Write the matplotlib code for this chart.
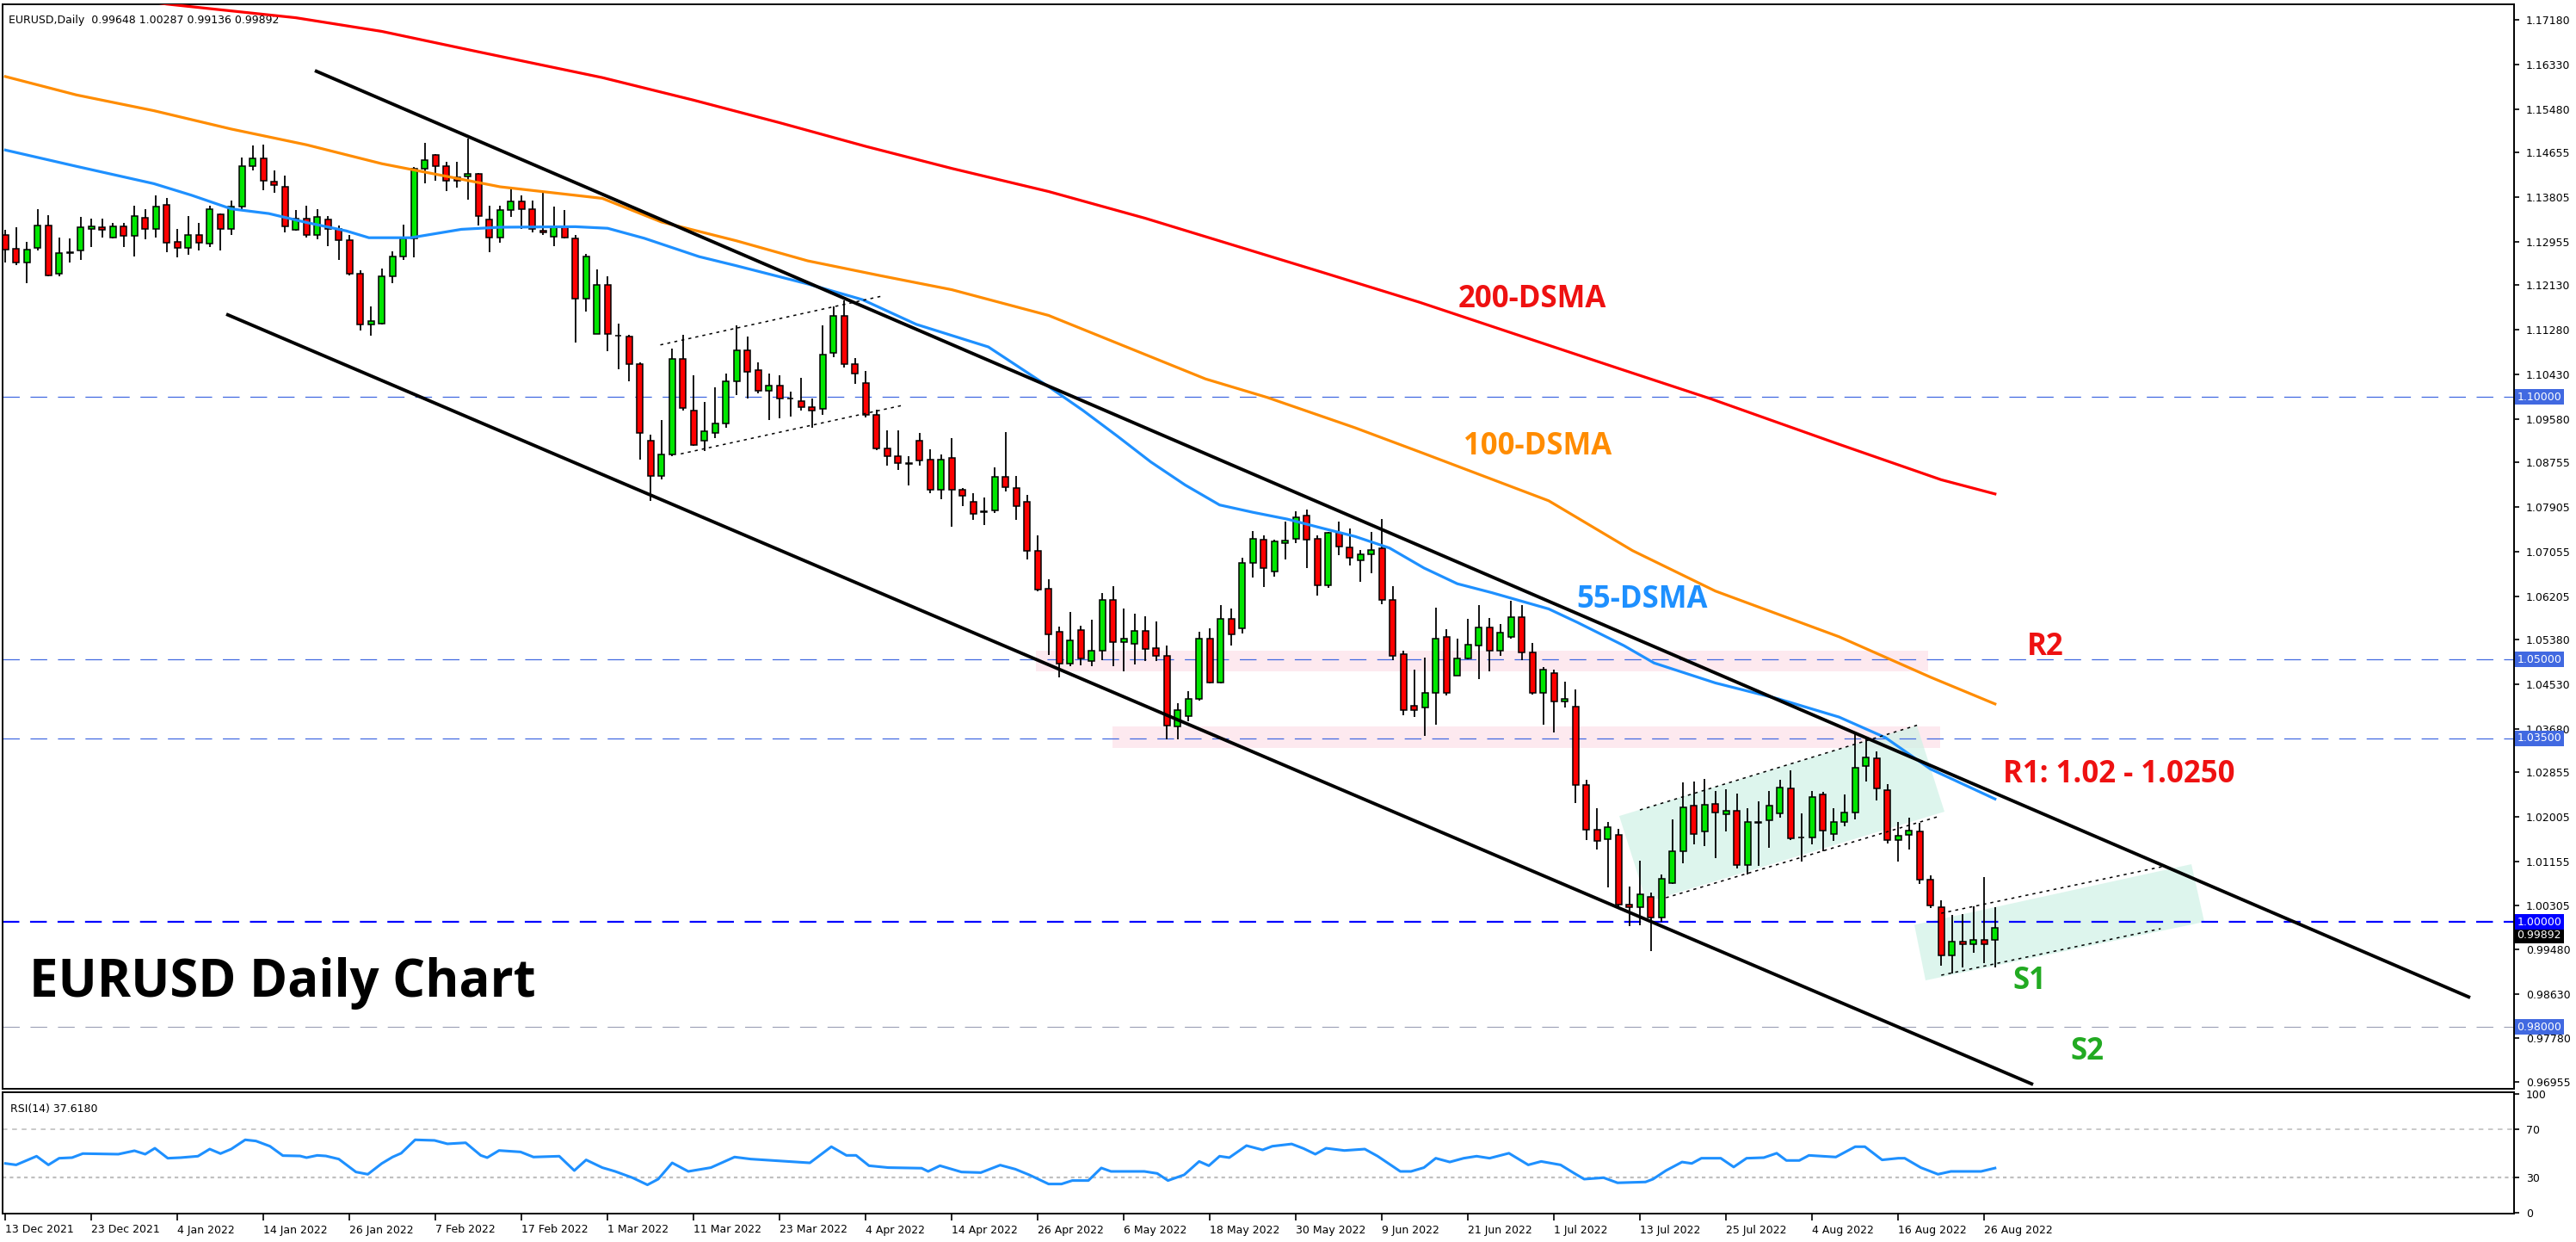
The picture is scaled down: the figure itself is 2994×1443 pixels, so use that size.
import numpy as np
import matplotlib
matplotlib.use("Agg")
import matplotlib.pyplot as plt
from matplotlib.patches import Polygon, Rectangle
from matplotlib.transforms import blended_transform_factory

# ---- daily candles, 13 Dec 2021 .. 29 Aug 2022 ----
opens = [1.1308, 1.1282, 1.1256, 1.1284, 1.1327, 1.1234, 1.1274, 1.1278, 1.1319, 1.1323,
         1.1304, 1.1325, 1.1307, 1.1341, 1.1319, 1.1365, 1.1295, 1.1284, 1.1309, 1.1292,
         1.1348, 1.1319, 1.1362, 1.1440, 1.1454, 1.1410, 1.1400, 1.1318, 1.1339, 1.1309,
         1.1337, 1.1320, 1.1298, 1.1235, 1.1137, 1.1140, 1.1229, 1.1268, 1.1301, 1.1435,
         1.1460, 1.1440, 1.1418, 1.1420, 1.1424, 1.1337, 1.1304, 1.1356, 1.1372, 1.1358,
         1.1316, 1.1305, 1.1325, 1.1301, 1.1187, 1.1120, 1.1213, 1.1116, 1.1115, 1.1063,
         1.0917, 1.0850, 1.0891, 1.1072, 1.0974, 1.0916, 1.0932, 1.0950, 1.1030, 1.1089,
         1.1051, 1.1011, 1.1021, 1.0996, 1.0992, 1.0980, 1.0977, 1.1084, 1.1154, 1.1063,
         1.1027, 1.0966, 1.0902, 1.0887, 1.0872, 1.0917, 1.0880, 1.0823, 1.0883, 1.0823,
         1.0800, 1.0781, 1.0783, 1.0848, 1.0826, 1.0800, 1.0707, 1.0634, 1.0552, 1.0492,
         1.0556, 1.0496, 1.0516, 1.0613, 1.0533, 1.0530, 1.0554, 1.0521, 1.0507, 1.0372,
         1.0392, 1.0425, 1.0540, 1.0455, 1.0577, 1.0559, 1.0684, 1.0728, 1.0668, 1.0722,
         1.0730, 1.0774, 1.0730, 1.0641, 1.0741, 1.0713, 1.0689, 1.0700, 1.0712, 1.0613,
         1.0510, 1.0411, 1.0408, 1.0436, 1.0543, 1.0469, 1.0502, 1.0526, 1.0561, 1.0516,
         1.0543, 1.0580, 1.0513, 1.0436, 1.0474, 1.0419, 1.0410, 1.0261, 1.0175, 1.0157,
         1.0166, 1.0033, 1.0028, 1.0047, 1.0008, 1.0073, 1.0135, 1.0221, 1.0172, 1.0224,
         1.0205, 1.0212, 1.0109, 1.0189, 1.0193, 1.0206, 1.0254, 1.0160, 1.0160, 1.0242,
         1.0168, 1.0190, 1.0208, 1.0296, 1.0312, 1.0251, 1.0155, 1.0165, 1.0172, 1.0080,
         1.0028, 0.9936, 0.9962, 0.9957, 0.9966, 0.99648]
highs = [1.1318, 1.1323, 1.1295, 1.1358, 1.1346, 1.1303, 1.1301, 1.1342, 1.1340, 1.1340,
         1.1332, 1.1331, 1.1364, 1.1358, 1.1383, 1.1378, 1.1320, 1.1344, 1.1331, 1.1364,
         1.1350, 1.1374, 1.1456, 1.1478, 1.1481, 1.1432, 1.1422, 1.1356, 1.1364, 1.1358,
         1.1345, 1.1327, 1.1309, 1.1241, 1.1172, 1.1245, 1.1277, 1.1328, 1.1437, 1.1483,
         1.1462, 1.1448, 1.1447, 1.1492, 1.1427, 1.1364, 1.1364, 1.1395, 1.1383, 1.1374,
         1.1390, 1.1363, 1.1356, 1.1309, 1.1272, 1.1242, 1.1230, 1.1140, 1.1118, 1.1066,
         1.0928, 1.0955, 1.1092, 1.1118, 1.1041, 1.0991, 1.1018, 1.1044, 1.1136, 1.1115,
         1.1066, 1.1044, 1.1041, 1.1010, 1.1036, 1.0996, 1.1136, 1.1172, 1.1184, 1.1073,
         1.1050, 1.0975, 1.0936, 1.0936, 1.0887, 1.0931, 1.0900, 1.0890, 1.0921, 1.0827,
         1.0817, 1.0809, 1.0865, 1.0933, 1.0849, 1.0813, 1.0736, 1.0652, 1.0562, 1.0590,
         1.0564, 1.0575, 1.0626, 1.0639, 1.0596, 1.0587, 1.0582, 1.0572, 1.0526, 1.0416,
         1.0439, 1.0552, 1.0559, 1.0603, 1.0596, 1.0693, 1.0745, 1.0736, 1.0728, 1.0763,
         1.0782, 1.0786, 1.0736, 1.0742, 1.0762, 1.0749, 1.0708, 1.0743, 1.0768, 1.0639,
         1.0516, 1.0480, 1.0503, 1.0598, 1.0557, 1.0540, 1.0577, 1.0603, 1.0578, 1.0567,
         1.0612, 1.0604, 1.0531, 1.0485, 1.0481, 1.0458, 1.0443, 1.0271, 1.0216, 1.0190,
         1.0177, 1.0067, 1.0116, 1.0055, 1.0091, 1.0195, 1.0266, 1.0268, 1.0272, 1.0249,
         1.0253, 1.0244, 1.0216, 1.0230, 1.0249, 1.0270, 1.0289, 1.0207, 1.0250, 1.0248,
         1.0216, 1.0242, 1.0361, 1.0353, 1.0324, 1.0262, 1.0190, 1.0198, 1.0189, 1.0089,
         1.0041, 1.0013, 1.0014, 1.0029, 1.0085, 1.00287]
lows = [1.1256, 1.1251, 1.1217, 1.1278, 1.1230, 1.1230, 1.1256, 1.1260, 1.1285, 1.1303,
        1.1301, 1.1285, 1.1268, 1.1300, 1.1303, 1.1276, 1.1266, 1.1271, 1.1279, 1.1285,
        1.1279, 1.1309, 1.1358, 1.1432, 1.1394, 1.1389, 1.1313, 1.1316, 1.1303, 1.1300,
        1.1287, 1.1260, 1.1232, 1.1126, 1.1116, 1.1137, 1.1216, 1.1261, 1.1265, 1.1407,
        1.1412, 1.1392, 1.1398, 1.1375, 1.1327, 1.1276, 1.1293, 1.1342, 1.1320, 1.1313,
        1.1309, 1.1287, 1.1301, 1.1104, 1.1162, 1.1120, 1.1087, 1.1052, 1.1029, 1.0881,
        1.0801, 1.0842, 1.0887, 1.0974, 1.0906, 1.0897, 1.0921, 1.0941, 1.1004, 1.0996,
        1.1006, 1.0956, 1.0959, 1.0963, 1.0974, 1.0941, 1.0965, 1.1075, 1.1056, 1.1025,
        1.0960, 1.0898, 1.0869, 1.0860, 1.0832, 1.0869, 1.0817, 1.0805, 1.0752, 1.0792,
        1.0765, 1.0756, 1.0778, 1.0819, 1.0765, 1.0691, 1.0630, 1.0509, 1.0465, 1.0487,
        1.0489, 1.0487, 1.0499, 1.0487, 1.0477, 1.0490, 1.0496, 1.0496, 1.0347, 1.0348,
        1.0382, 1.0422, 1.0454, 1.0454, 1.0526, 1.0550, 1.0655, 1.0637, 1.0657, 1.0691,
        1.0722, 1.0673, 1.0622, 1.0636, 1.0699, 1.0678, 1.0647, 1.0664, 1.0605, 1.0499,
        1.0394, 1.0391, 1.0354, 1.0376, 1.0432, 1.0469, 1.0500, 1.0463, 1.0477, 1.0507,
        1.0540, 1.0499, 1.0433, 1.0376, 1.0360, 1.0409, 1.0227, 1.0155, 1.0137, 1.0066,
        1.0029, 0.9992, 0.9993, 0.9945, 1.0000, 1.0072, 1.0112, 1.0148, 1.0145, 1.0122,
        1.0172, 1.0102, 1.0090, 1.0107, 1.0141, 1.0199, 1.0155, 1.0115, 1.0148, 1.0134,
        1.0154, 1.0182, 1.0195, 1.0268, 1.0232, 1.0149, 1.0114, 1.0138, 1.0072, 1.0026,
        0.9917, 0.9901, 0.9913, 0.9941, 0.9921, 0.99136]
closes = [1.1280, 1.1256, 1.1280, 1.1327, 1.1232, 1.1274, 1.1275, 1.1323, 1.1325, 1.1318,
          1.1325, 1.1307, 1.1344, 1.1320, 1.1363, 1.1293, 1.1284, 1.1309, 1.1293, 1.1358,
          1.1319, 1.1362, 1.1440, 1.1454, 1.1411, 1.1403, 1.1324, 1.1339, 1.1309, 1.1342,
          1.1320, 1.1298, 1.1234, 1.1137, 1.1145, 1.1229, 1.1268, 1.1301, 1.1435, 1.1451,
          1.1440, 1.1411, 1.1411, 1.1424, 1.1345, 1.1304, 1.1356, 1.1372, 1.1358, 1.1320,
          1.1313, 1.1325, 1.1303, 1.1187, 1.1268, 1.1213, 1.1119, 1.1116, 1.1063, 1.0932,
          1.0850, 1.0891, 1.1072, 1.0979, 1.0909, 1.0935, 1.0950, 1.1030, 1.1089, 1.1048,
          1.1011, 1.1021, 1.0997, 1.0997, 1.0981, 1.0973, 1.1081, 1.1154, 1.1063, 1.1045,
          1.0966, 1.0902, 1.0887, 1.0873, 1.0872, 1.0879, 1.0823, 1.0881, 1.0823, 1.0811,
          1.0777, 1.0781, 1.0848, 1.0828, 1.0792, 1.0707, 1.0633, 1.0548, 1.0492, 1.0536,
          1.0502, 1.0516, 1.0613, 1.0533, 1.0540, 1.0554, 1.0520, 1.0506, 1.0373, 1.0403,
          1.0425, 1.0540, 1.0455, 1.0577, 1.0548, 1.0684, 1.0730, 1.0674, 1.0725, 1.0727,
          1.0771, 1.0728, 1.0641, 1.0741, 1.0715, 1.0693, 1.0700, 1.0708, 1.0613, 1.0507,
          1.0403, 1.0403, 1.0436, 1.0540, 1.0436, 1.0502, 1.0528, 1.0561, 1.0516, 1.0551,
          1.0580, 1.0513, 1.0436, 1.0480, 1.0419, 1.0425, 1.0260, 1.0175, 1.0154, 1.0180,
          1.0033, 1.0028, 1.0052, 1.0008, 1.0082, 1.0135, 1.0218, 1.0168, 1.0223, 1.0209,
          1.0212, 1.0109, 1.0190, 1.0189, 1.0221, 1.0256, 1.0159, 1.0160, 1.0238, 1.0174,
          1.0190, 1.0208, 1.0293, 1.0313, 1.0254, 1.0155, 1.0164, 1.0174, 1.0081, 1.0032,
          0.9936, 0.9962, 0.9958, 0.9966, 0.9957, 0.99892]

date_labels = ["13 Dec 2021", "23 Dec 2021", "4 Jan 2022", "14 Jan 2022", "26 Jan 2022",
               "7 Feb 2022", "17 Feb 2022", "1 Mar 2022", "11 Mar 2022", "23 Mar 2022",
               "4 Apr 2022", "14 Apr 2022", "26 Apr 2022", "6 May 2022", "18 May 2022",
               "30 May 2022", "9 Jun 2022", "21 Jun 2022", "1 Jul 2022", "13 Jul 2022",
               "25 Jul 2022", "4 Aug 2022", "16 Aug 2022", "26 Aug 2022"]
date_step = 8

# moving averages, sampled along the drawn lines (bar index, price)
ma200_idx = [0, 8, 15, 27, 35, 44, 55.5, 64, 72, 80, 88, 97, 106, 114, 122, 131.5, 140,
             150, 158.6, 170.3, 180, 185]
ma200_val = [1.1788, 1.1768, 1.1748, 1.1722, 1.1696, 1.1657, 1.1608, 1.1565, 1.1522, 1.1477,
             1.1435, 1.1391, 1.1340, 1.1290, 1.1240, 1.1180, 1.1122, 1.1054, 1.0996, 1.0911,
             1.0842, 1.0815]
ma100_idx = [0, 6.6, 13.8, 21, 28, 35, 46, 55.5, 61, 68, 74.6, 81.3, 88, 97, 111.6, 117.3,
             125.5, 131.9, 143.5, 151.3, 159, 170.5, 179, 185]
ma100_val = [1.1610, 1.1575, 1.1545, 1.1510, 1.1480, 1.1444, 1.1400, 1.1378, 1.1333, 1.1297,
             1.1259, 1.1231, 1.1204, 1.1155, 1.1034, 1.0999, 1.0941, 1.0892, 1.0802, 1.0707,
             1.0630, 1.0543, 1.0466, 1.0415]
ma55_idx = [0, 6.6, 13.8, 17.3, 21, 24.5, 28, 31.7, 33.8, 37.7, 42.4, 46, 53, 56, 59.4,
            64.5, 67.9, 74.6, 79.7, 84.7, 91.4, 97.1, 100.2, 103.4, 106.5, 109.7, 112.9, 116,
            119.2, 122.4, 125.5, 128.7, 131.9, 135, 138.2, 143.5, 146.2, 150.5, 153.3, 159,
            164.8, 170.5, 174.8, 179, 185]
ma55_val = [1.1470, 1.1439, 1.1406, 1.1384, 1.1358, 1.1349, 1.1332, 1.1316, 1.1303, 1.1303,
            1.1319, 1.1323, 1.1324, 1.1321, 1.1302, 1.1267, 1.1250, 1.1215, 1.1185, 1.1138,
            1.1095, 1.1018, 1.0974, 1.0925, 1.0876, 1.0832, 1.0794, 1.0780, 1.0767, 1.0750,
            1.0734, 1.0712, 1.0674, 1.0644, 1.0627, 1.0596, 1.0570, 1.0526, 1.0493, 1.0455,
            1.0425, 1.0390, 1.0351, 1.0291, 1.0234]

# RSI(14), sampled along the line
rsi_idx = [0, 1, 2.9, 4, 5, 6.2, 7.2, 10.5, 12, 13, 13.9, 15.1, 16.3, 17.9, 19, 20, 21, 22.3,
           23.3, 24.6, 25.8, 27.4, 28, 29, 29.8, 31, 32.6, 33.7, 35, 36, 36.8, 38.1, 39.9,
           41.1, 42.8, 44.2, 44.8, 45.9, 47.9, 49.1, 51.5, 52.9, 54, 55.5, 56.7, 58.3, 59.7,
           60.7, 62, 63.5, 65.6, 67.8, 69.3, 71.4, 74.8, 76.8, 78.2, 79.1, 80.3, 82.1, 85.2,
           85.8, 86.9, 88.9, 90.7, 92.5, 93.9, 95.2, 97, 98.2, 99.2, 100.7, 101.9, 102.8,
           105.9, 107.1, 108.1, 109.6, 111, 111.9, 112.9, 113.8, 115.4, 116.9, 117.8, 119.6,
           120.7, 121.8, 122.8, 124.5, 126.4, 127.6, 129.7, 130.7, 131.9, 133, 134.3, 135.6,
           136.8, 138, 139.8, 141.6, 142.8, 144.6, 145.9, 146.8, 148.6, 149.9, 152.5, 153.2,
           154.4, 155.9, 156.8, 157.7, 159.5, 160.7, 161.9, 163.5, 164.7, 165.6, 166.8,
           167.7, 170.2, 172, 172.9, 174.5, 176, 176.6, 178.1, 179.7, 180.9, 183.7, 185]
rsi_val = [41.5, 40.3, 47.6, 40.3, 45.9, 46.4, 49.8, 49.3, 52.2, 49.3, 54.3, 45.9, 46.4, 47.6,
           53.6, 49.8, 53.6, 61.4, 60.4, 56.0, 48.1, 47.8, 46.4, 48.3, 47.8, 45.2, 34.3, 32.4,
           41.5, 46.9, 50.1, 61.4, 60.9, 58.0, 58.9, 48.3, 46.4, 52.4, 51.2, 46.9, 47.6, 35.5,
           44.5, 38.0, 34.8, 29.5, 23.5, 28.3, 42.0, 34.8, 38.0, 46.9, 45.2, 44.0, 42.0, 55.6,
           48.3, 48.3, 39.6, 38.0, 37.5, 34.8, 39.6, 34.3, 33.8, 40.1, 36.7, 31.9, 24.2, 24.2,
           27.1, 27.1, 37.7, 34.8, 34.8, 33.1, 27.1, 31.9, 43.2, 39.6, 47.6, 46.4, 56.5, 52.9,
           56.0, 57.9, 54.1, 49.3, 54.3, 52.4, 53.6, 47.6, 34.8, 34.8, 38.0, 45.9, 42.7, 45.9,
           47.6, 45.9, 50.1, 40.3, 43.2, 40.3, 33.1, 28.3, 29.5, 25.2, 25.9, 28.3, 35.5, 42.7,
           41.5, 45.9, 45.9, 38.5, 45.9, 46.4, 50.1, 44.0, 44.0, 48.3, 46.9, 55.6, 55.6, 44.5,
           45.9, 45.9, 38.0, 32.4, 34.8, 34.8, 37.6]

# price axis
price_ticks = [1.17180, 1.16330, 1.15480, 1.14655, 1.13805, 1.12955, 1.12130, 1.11280,
               1.10430, 1.09580, 1.08755, 1.07905, 1.07055, 1.06205, 1.05380, 1.04530,
               1.03680, 1.02855, 1.02005, 1.01155, 1.00305, 0.99480, 0.98630, 0.97780, 0.96955]
levels = [1.10000, 1.05000, 1.03500, 1.00000, 0.98000]

# drawn objects (bar index, price)
upper_trend = ([28.78, 229.18], [1.16213, 0.98557])
lower_trend = ([20.54, 188.54], [1.11574, 0.96902])
flag1_top = ([60.9, 81.5], [1.10989, 1.11918])
flag1_bot = ([62.8, 83.5], [1.08913, 1.09841])
flag2_box = [(150.06, 1.02016), (177.74, 1.03738), (180.3, 1.02098), (152.6, 1.00377)]
flag2_top = ([151.98, 177.82], [1.02131, 1.03749])
flag2_bot = ([154.4, 179.9], [1.00459, 1.02016])
flag3_box = [(177.5, 0.99943), (203.26, 1.01098), (204.46, 0.99999), (178.54, 0.98885)]
flag3_top = ([180.0, 200.9], [1.00164, 1.01066])
flag3_bot = ([180.0, 200.4], [0.98984, 0.99869])
zone_r2 = (95.8, 178.8, 1.04770, 1.05164)
zone_r1 = (102.9, 179.9, 1.03311, 1.03721)

W, H = 2994, 1443
fig = plt.figure(figsize=(W / 100, H / 100), dpi=100)
fig.patch.set_facecolor("white")
plt.rcParams["lines.scale_dashes"] = False

ax = fig.add_axes([3 / W, 1 - 1265 / H, 2919 / W, 1260.5 / H])
ax_rsi = fig.add_axes([3 / W, 1 - 1410 / H, 2919 / W, 141 / H])

xlim = (-0.26, 233.26)
ax.set_xlim(*xlim)
ax.set_ylim(0.96820, 1.17484)
ax_rsi.set_xlim(*xlim)
ax_rsi.set_ylim(-0.72, 101.45)

for a in (ax, ax_rsi):
    for s in a.spines.values():
        s.set_linewidth(1.4)
        s.set_color("black")

# zones and flags (background)
for x0, x1, y0, y1 in (zone_r2, zone_r1):
    ax.add_patch(Rectangle((x0, y0), x1 - x0, y1 - y0, fc="#FDE9EF", ec="none", zorder=0.5))
for box in (flag2_box, flag3_box):
    ax.add_patch(Polygon(box, closed=True, fc="#CFF2E6", ec="none", alpha=0.7, zorder=0.6))

# horizontal levels
dash = (0, (14, 9))
for lv in levels:
    if lv == 1.0:
        ax.axhline(lv, color="#0000FF", lw=1.6, ls=dash, zorder=1)
    elif lv == 0.98:
        ax.axhline(lv, color="#9A9FB5", lw=0.8, ls=dash, zorder=1)
    else:
        ax.axhline(lv, color="#4169E1", lw=0.9, ls=dash, zorder=1)

# candles
o = np.array(opens); h = np.array(highs); l = np.array(lows); c = np.array(closes)
idx = np.arange(len(o))
up = c >= o
body_lo = np.minimum(o, c)
body_h = np.maximum(np.abs(c - o), 0.00012)
ax.vlines(idx, l, h, color="black", lw=1.3, zorder=2)
ax.bar(idx[up], body_h[up], bottom=body_lo[up], width=0.58, color="#00E600",
       edgecolor="black", linewidth=1.1, zorder=3)
ax.bar(idx[~up], body_h[~up], bottom=body_lo[~up], width=0.58, color="#FF0000",
       edgecolor="black", linewidth=1.1, zorder=3)

# moving averages
ax.plot(ma200_idx, ma200_val, color="#FF0000", lw=2.3, zorder=4)
ax.plot(ma100_idx, ma100_val, color="#FF8C00", lw=2.3, zorder=4)
ax.plot(ma55_idx, ma55_val, color="#1E90FF", lw=2.3, zorder=4)

# channel and flag lines
for xs, ys in (upper_trend, lower_trend):
    ax.plot(xs, ys, color="black", lw=2.8, solid_capstyle="butt", zorder=5)
for xs, ys in (flag1_top, flag1_bot, flag2_top, flag2_bot, flag3_top, flag3_bot):
    ax.plot(xs, ys, color="black", lw=1.1, ls=(0, (2.5, 3.5)), zorder=5)

# labels on chart
lab = dict(family="Open Sans", weight="bold", ha="center", va="center", zorder=6)
ax.text(142.0, 1.11852, "200-DSMA", color="#EE1111", fontsize=25, **lab)
ax.text(142.5, 1.09049, "100-DSMA", color="#FF8C00", fontsize=25, **lab)
ax.text(152.2, 1.06131, "55-DSMA", color="#1E90FF", fontsize=25, **lab)
ax.text(189.7, 1.05230, "R2", color="#EE1111", fontsize=25, **lab)
ax.text(196.5, 1.02803, "R1: 1.02 - 1.0250", color="#EE1111", fontsize=25, **lab)
ax.text(188.2, 0.98869, "S1", color="#22AA22", fontsize=25, **lab)
ax.text(193.6, 0.97525, "S2", color="#22AA22", fontsize=25, **lab)
ax.text(2.2, 0.98836, "EURUSD Daily Chart", color="black", fontsize=43, family="Open Sans",
        weight="bold", ha="left", va="center", zorder=6)

ax.text(0.0025, 0.985, "EURUSD,Daily  0.99648 1.00287 0.99136 0.99892", transform=ax.transAxes,
        fontsize=9, ha="left", va="center", color="black")

# price axis
ax.yaxis.tick_right()
ax.set_yticks(price_ticks)
ax.set_yticklabels([f"{t:.5f}" for t in price_ticks])
ax.tick_params(axis="y", direction="out", length=4, width=1.2, labelsize=9, pad=6)
ax.set_xticks([])

tr = blended_transform_factory(ax.transAxes, ax.transData)
for lv in levels:
    fc = "#0000FF" if lv == 1.0 else "#4169E1"
    ax.text(1.0012, lv, f"{lv:.5f}", transform=tr, fontsize=9, color="white", ha="left",
            va="center", clip_on=False, zorder=7,
            bbox=dict(boxstyle="square,pad=0.2", fc=fc, ec="none"))
ax.text(1.0012, closes[-1] - 0.0015, f"{closes[-1]:.5f}", transform=tr, fontsize=9,
        color="white", ha="left", va="center", clip_on=False, zorder=6,
        bbox=dict(boxstyle="square,pad=0.2", fc="black", ec="none"))

# RSI panel
ax_rsi.axhline(70, color="#C0C0C0", lw=1.2, ls=(0, (4, 4)))
ax_rsi.axhline(30, color="#C0C0C0", lw=1.6, ls=(0, (3, 3)))
ax_rsi.plot(rsi_idx, rsi_val, color="#1E90FF", lw=2.2)
ax_rsi.text(0.003, 0.86, "RSI(14) 37.6180", transform=ax_rsi.transAxes, fontsize=9,
            ha="left", va="center")
ax_rsi.yaxis.tick_right()
ax_rsi.set_yticks([100, 70, 30, 0])
ax_rsi.set_yticklabels(["100", "70", "30", "0"])
ax_rsi.tick_params(axis="y", direction="out", length=4, width=1.2, labelsize=9, pad=6)

ax_rsi.set_xticks([k * date_step for k in range(len(date_labels))])
ax_rsi.set_xticklabels(date_labels)
ax_rsi.tick_params(axis="x", direction="out", length=6, width=1.2, labelsize=9, pad=3)
for t in ax_rsi.get_xticklabels():
    t.set_ha("left")

fig.savefig("out.png", dpi=100, facecolor="white")
